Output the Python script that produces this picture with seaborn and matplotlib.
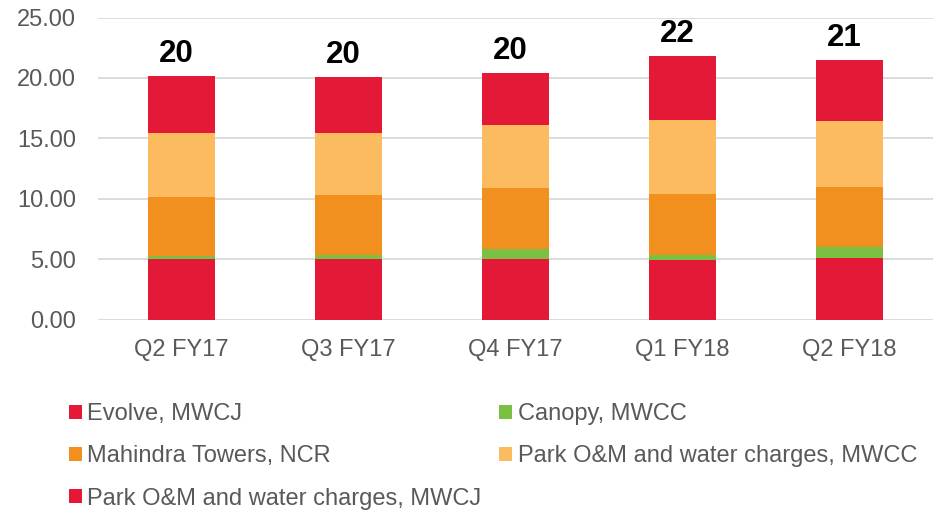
import matplotlib
matplotlib.use("Agg")
import matplotlib.pyplot as plt
import seaborn as sns
import numpy as np

categories = ["Q2 FY17", "Q3 FY17", "Q4 FY17", "Q1 FY18", "Q2 FY18"]
evolve_mwcj = [4.98, 5.03, 5.03, 4.95, 5.12]
canopy_mwcc = [0.28, 0.33, 0.83, 0.36, 0.86]
mahindra_towers_ncr = [4.88, 4.95, 5.03, 5.10, 4.99]
park_mwcc = [5.32, 5.15, 5.24, 6.10, 5.46]
park_mwcj = [4.70, 4.64, 4.25, 5.28, 5.03]
total_labels = ["20", "20", "20", "22", "21"]

series_names = ["Evolve, MWCJ", "Canopy, MWCC", "Mahindra Towers, NCR",
                "Park O&M and water charges, MWCC", "Park O&M and water charges, MWCJ"]
series_values = [evolve_mwcj, canopy_mwcc, mahindra_towers_ncr, park_mwcc, park_mwcj]
colors = ["#E31937", "#7AC143", "#F18F1F", "#FDBB5F", "#E31937"]

sns.set_theme(style="white")
plt.rcParams["font.family"] = ["Liberation Sans", "DejaVu Sans"]

fig = plt.figure(figsize=(9.36, 5.11), dpi=100)
ax = fig.add_axes([98/936, 1 - 319.5/511, 835/936, 302/511])

bottom = np.zeros(len(categories))
for name, vals, col in zip(series_names, series_values, colors):
    sns.barplot(x=categories, y=vals, bottom=bottom, color=col, width=0.4,
                ax=ax, label=name, saturation=1, edgecolor="none", linewidth=0)
    bottom = bottom + np.array(vals)

for i, (tot, lab) in enumerate(zip(bottom, total_labels)):
    ax.annotate(lab, (i, tot), xytext=(-4, 5), textcoords="offset points",
                ha="center", va="bottom", fontsize=22.5, fontweight="bold", color="black")

ax.set_ylim(0, 25)
ax.set_xlim(-0.5, 4.5)
ax.set_yticks([0, 5, 10, 15, 20, 25])
ax.set_yticklabels([f"{v:.2f}" for v in [0, 5, 10, 15, 20, 25]])
ax.yaxis.grid(True, color="#D9D9D9", linewidth=1.3)
ax.set_axisbelow(True)
for s in ax.spines.values():
    s.set_visible(False)
ax.tick_params(axis="y", length=0, pad=16, labelsize=17, labelcolor="#595959")
ax.tick_params(axis="x", length=0, pad=14, labelsize=17, labelcolor="#595959")
ax.set_xlabel("")
ax.set_ylabel("")

h, l = ax.get_legend_handles_labels()
if ax.get_legend() is not None:
    ax.get_legend().remove()
order = [0, 2, 4, 1, 3]
leg = fig.legend([h[k] for k in order], [l[k] for k in order], ncol=2,
                 loc="upper left", bbox_to_anchor=(69/936, 1 - 403/511),
                 frameon=False, fontsize=17, handlelength=0.55, handleheight=0.55,
                 handletextpad=0.22, columnspacing=0.77, labelspacing=0.86,
                 borderaxespad=0, borderpad=0)
for t in leg.get_texts():
    t.set_color("#595959")

fig.savefig("out.png", dpi=100)
